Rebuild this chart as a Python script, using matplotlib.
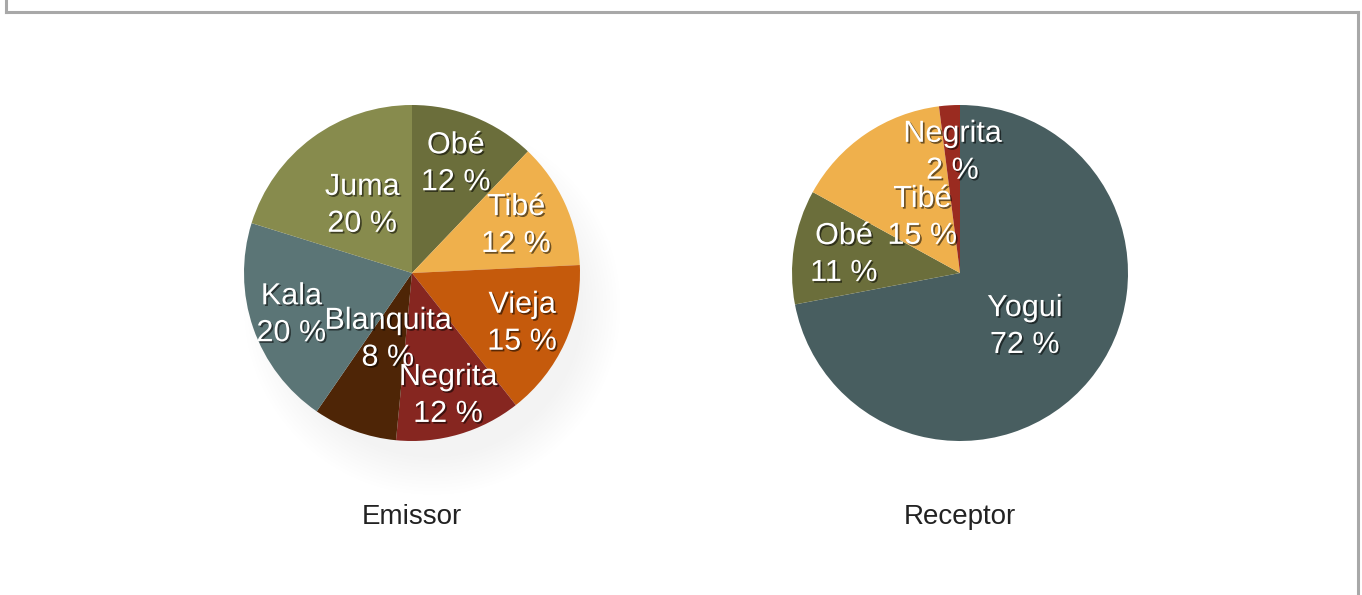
import matplotlib
matplotlib.use("Agg")
import matplotlib.pyplot as plt
import matplotlib.patheffects as pe
from matplotlib.lines import Line2D
from matplotlib.patches import Circle
import numpy as np

# ---- data ----
emissor_labels = ["Obé", "Tibé", "Vieja", "Negrita", "Blanquita", "Kala", "Juma"]
emissor_values = [12, 12, 15, 12, 8, 20, 20]
receptor_labels = ["Yogui", "Obé", "Tibé", "Negrita"]
receptor_values = [72, 11, 15, 2]
titles = ["Emissor", "Receptor"]

# ---- style ----
palette = {
    "Obé": "#6b6e3b", "Tibé": "#efb04c", "Vieja": "#c55a0c",
    "Negrita": "#862620", "Blanquita": "#4e2506", "Kala": "#5b7576",
    "Juma": "#878b4d", "Yogui": "#485e60",
}
receptor_override = {"Negrita": "#9a2b20"}
emissor_label_r = [0.70, 0.68, 0.72, 0.76, 0.42, 0.76, 0.50]
receptor_label_r = [0.50, 0.70, 0.40, 0.72]
soft_shadow = [True, False]

plt.rcParams["font.family"] = ["Liberation Sans", "DejaVu Sans"]

W, H = 1362, 595
fig = plt.figure(figsize=(W / 100, H / 100), dpi=100)
fig.patch.set_facecolor("white")

# frame lines (left, top, right)
for xs, ys in [([6, 6], [0, 12]), ([6, 1358], [12, 12]), ([1358, 1358], [12, 595])]:
    fig.add_artist(Line2D([x / W for x in xs], [1 - y / H for y in ys],
                          color="#a8a8a8", lw=2.2, transform=fig.transFigure))

R = 168
centers = [(412, 273), (960, 273)]
datasets = [
    (emissor_labels, emissor_values, emissor_label_r, {}),
    (receptor_labels, receptor_values, receptor_label_r, receptor_override),
]

txt_fx = [pe.SimplePatchShadow(offset=(1.2, -1.2), shadow_rgbFace="black", alpha=0.55),
          pe.Normal()]

for (cx, cy), (labels, values, lr, override), title, sh in zip(
        centers, datasets, titles, soft_shadow):
    ax = fig.add_axes([(cx - R) / W, (H - cy - R) / H, 2 * R / W, 2 * R / H])
    if sh:
        for rr in np.linspace(0.9, 1.12, 12):
            ax.add_patch(Circle((0.12, -0.2), rr, facecolor="black",
                                edgecolor="none", alpha=0.0045, zorder=0,
                                clip_on=False))
    cols = [override.get(l, palette[l]) for l in labels]
    wedges, _ = ax.pie(values, colors=cols, startangle=90, counterclock=False,
                       radius=1, wedgeprops=dict(linewidth=0, zorder=2))
    for w, l, v, r in zip(wedges, labels, values, lr):
        ang = np.deg2rad((w.theta1 + w.theta2) / 2)
        ax.text(r * np.cos(ang), r * np.sin(ang), f"{l}\n{v} %", ha="center",
                va="center", color="white", fontsize=22, linespacing=1.3,
                path_effects=txt_fx, zorder=5)
    ax.set_xlim(-1, 1)
    ax.set_ylim(-1, 1)
    ax.axis("off")
    fig.text(cx / W, 1 - 517 / H, title, ha="center", va="center",
             fontsize=20, color="#222222")

fig.savefig("out.png", dpi=100, facecolor="white")
